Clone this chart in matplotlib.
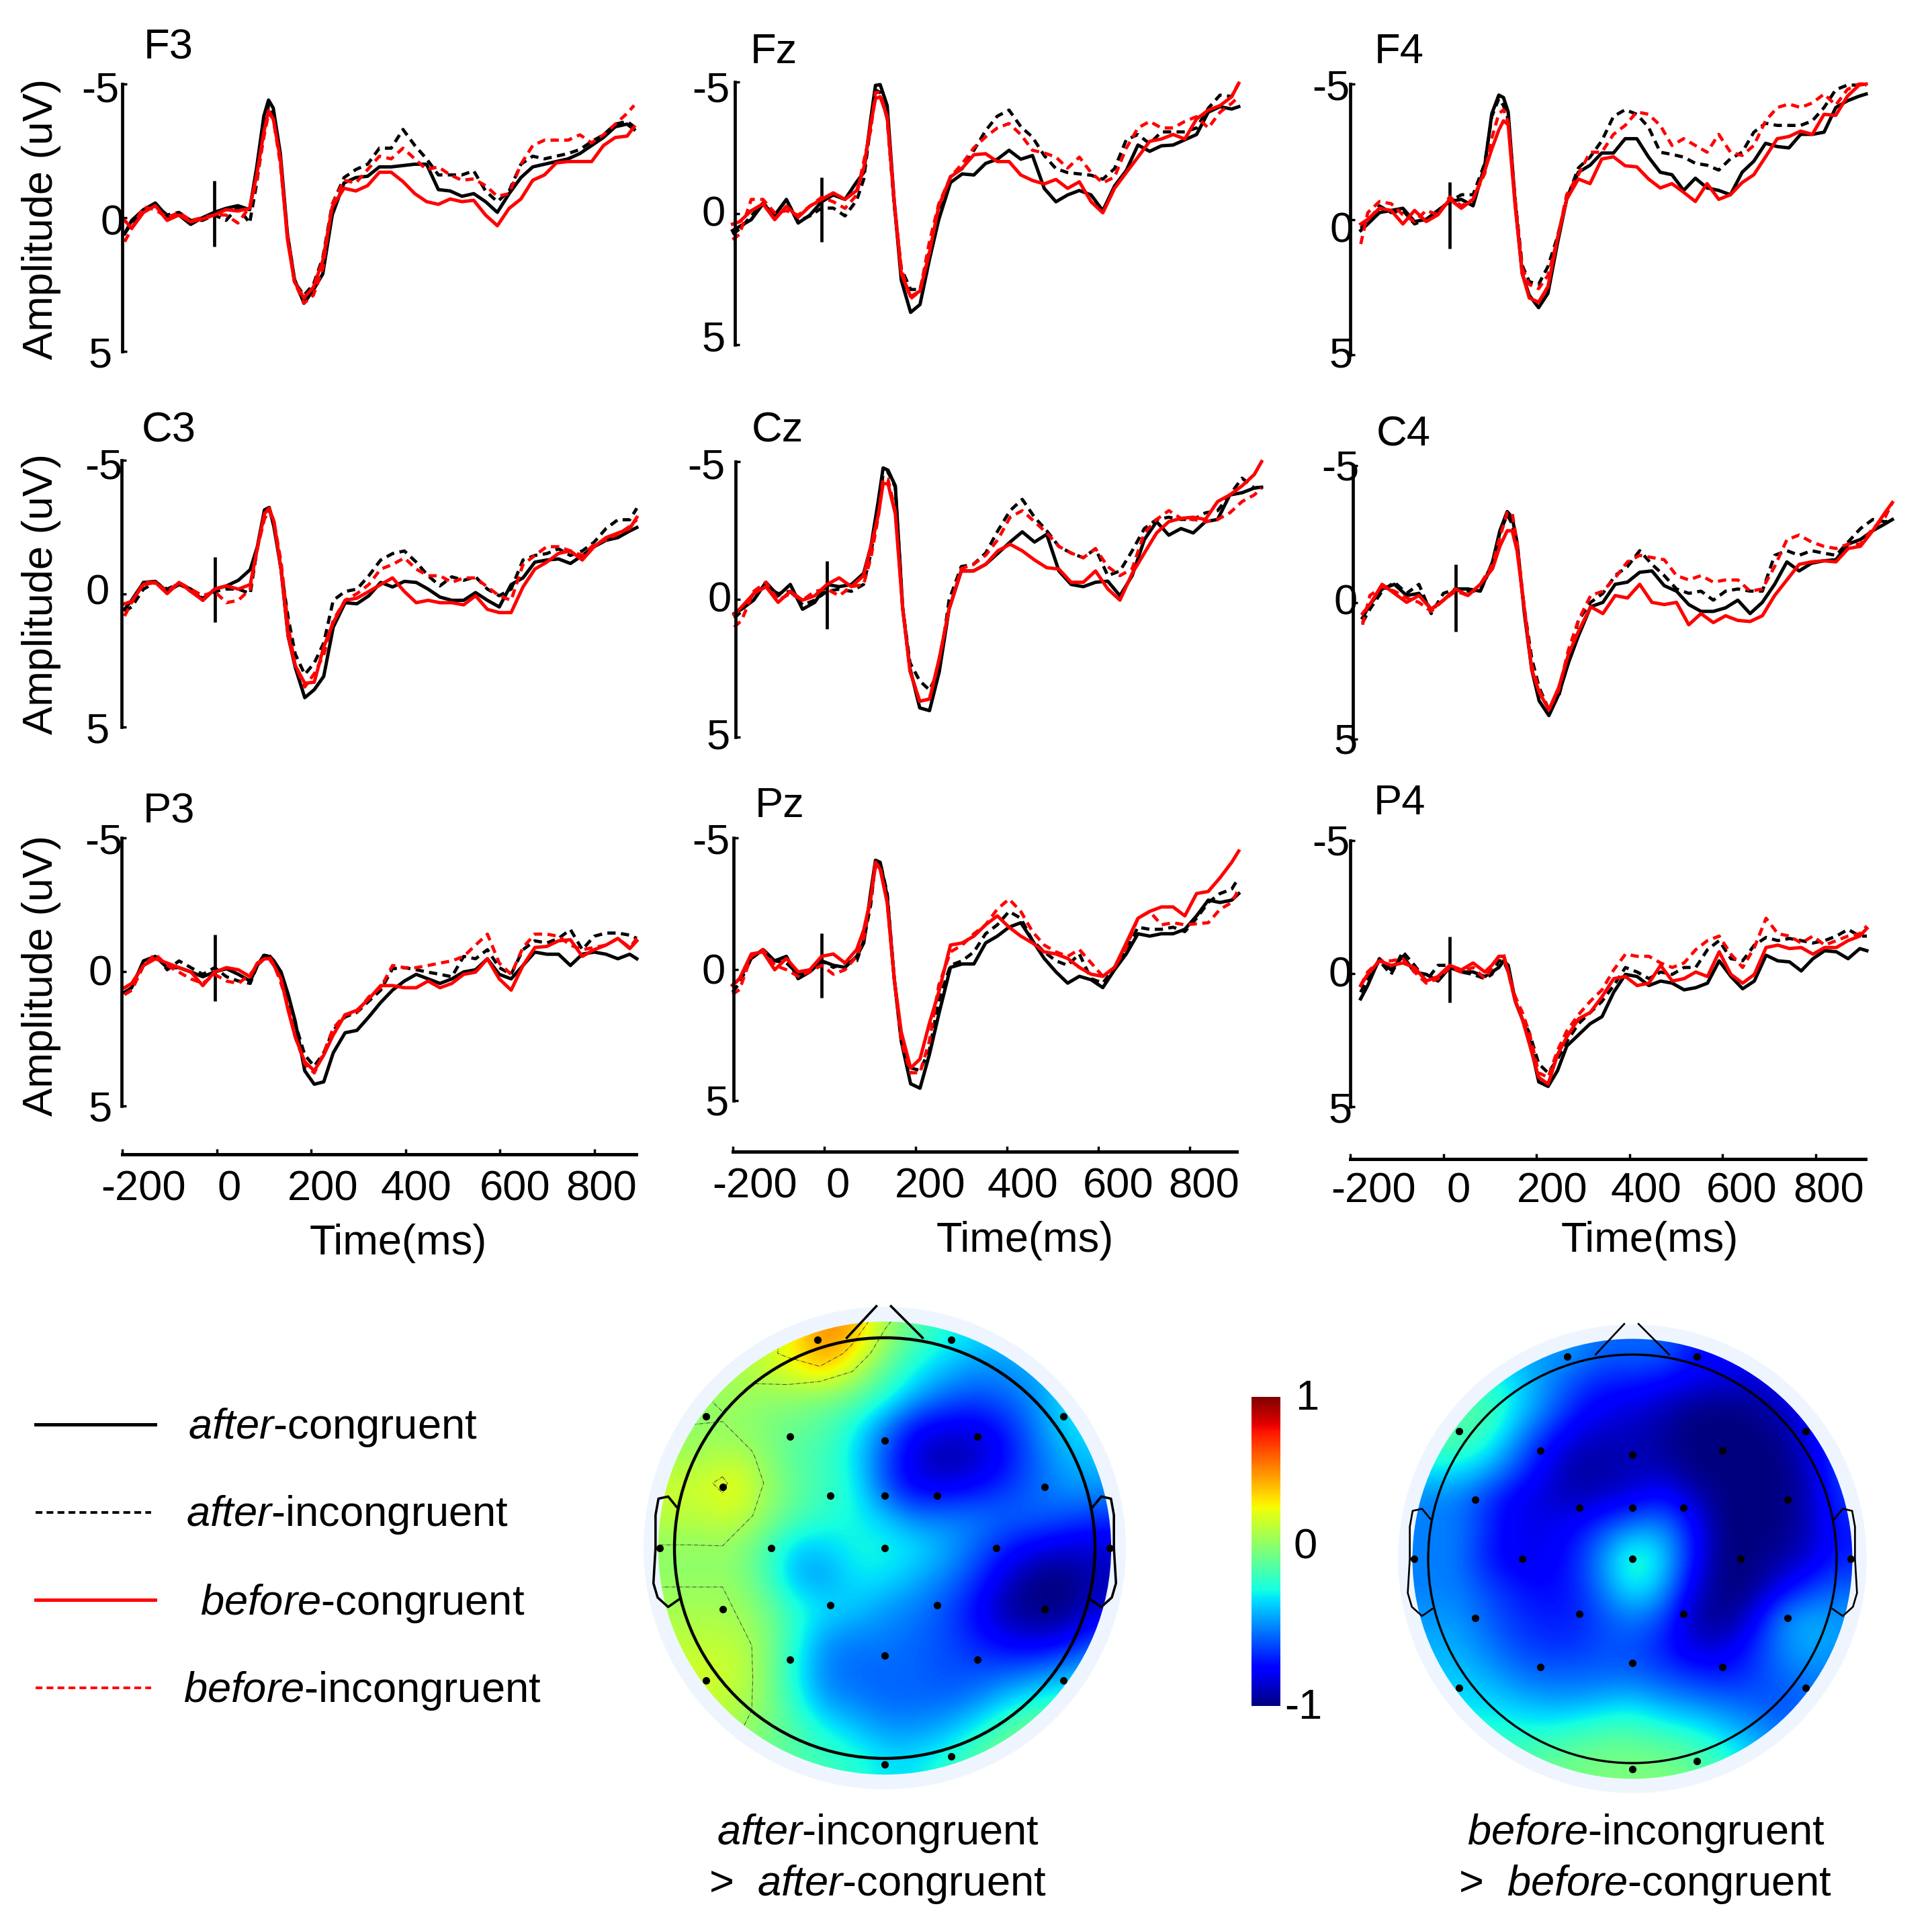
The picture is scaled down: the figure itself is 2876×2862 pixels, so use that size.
""" ERP waveforms and scalp maps for four conditions """

import matplotlib
import matplotlib.pyplot as plt
from matplotlib.patches import Circle
import numpy as np

matplotlib.use('Agg')

plt.rcParams['font.family'] = ['Liberation Sans', 'DejaVu Sans']
plt.rcParams['mathtext.fontset'] = 'custom'
plt.rcParams['mathtext.rm'] = 'Liberation Sans'
plt.rcParams['mathtext.it'] = 'Liberation Sans:italic'

WIDTH, HEIGHT = 2876, 2862

TIME = [-190, -175, -150, -125, -100, -75, -50, -25, 0, 25, 50, 75, 90, 105, 115, 125, 140, 155, 170, 190, 210, 230,
        250, 275, 300, 325, 350, 375, 400, 425, 450, 475, 500, 525, 550, 575, 600, 625, 650, 675, 700, 725, 750, 775,
        800, 825, 850, 875, 890]

F3_AC = [.6,.1,-.3,-.55,-.05,-.1,.25,0,-.2,-.35,-.45,-.3,-1.9,-3.8,-4.4,-4.1,-2.4,.6,2.3,3.2,2.7,2.1,-.1,-1.3,-1.5,-1.55,-1.9,-1.9,-1.95,-2.0,-2.0,-1.05,-1.0,-.8,-.9,-.6,-.2,-.9,-1.5,-1.9,-2.0,-2.1,-2.2,-2.4,-2.7,-3.0,-3.4,-3.5,-3.3]
F3_AI = [.6,.2,-.3,-.5,-.1,-.2,.1,.1,-.1,.1,-.4,.2,-1.3,-3.2,-4.2,-3.9,-2.2,.7,2.4,2.9,2.5,1.5,-.5,-1.5,-1.8,-2.0,-2.6,-2.6,-3.3,-2.7,-2.2,-1.6,-1.6,-1.6,-1.75,-1.0,-.6,-1.0,-2.0,-2.3,-2.2,-2.3,-2.4,-2.55,-2.85,-3.1,-3.5,-3.6,-3.4]
F3_BC = [.1,.4,-.2,-.45,.1,-.1,.15,.05,-.1,-.3,-.25,-.35,-1.6,-3.2,-4.0,-3.7,-2.2,.8,2.4,3.0,2.6,1.6,-.4,-1.1,-1.0,-1.2,-1.7,-1.7,-1.35,-.9,-.6,-.5,-.7,-.6,-.65,-.1,.3,-.35,-.7,-1.4,-1.6,-2.05,-2.1,-2.1,-2.1,-2.7,-3.0,-3.05,-3.4]
F3_BI = [.9,.4,-.4,-.3,0,-.2,.1,0,-.1,-.1,.2,-.4,-1.4,-3.0,-3.9,-3.7,-2.0,.6,2.4,3.2,2.9,1.9,-.5,-1.4,-1.3,-1.8,-2.3,-2.2,-2.6,-2.2,-1.8,-1.9,-1.6,-1.4,-1.45,-1.2,-.8,-.9,-2.0,-2.7,-2.9,-2.9,-2.9,-3.1,-2.8,-3.1,-3.5,-3.9,-4.2]

FZ_AC = [.66,.5,.24,-.36,.07,-.53,.37,.07,-.44,-.7,-.53,-1.2,-1.55,-3.6,-4.87,-4.9,-4.1,-.44,2.54,3.77,3.47,1.77,.24,-1.17,-1.5,-1.46,-1.9,-2.06,-2.4,-2.06,-2.2,-.95,-.44,-.7,-.87,-.7,-.1,-1.04,-1.63,-2.6,-2.36,-2.57,-2.6,-2.8,-3,-3.85,-4.06,-3.97,-4.06]
FZ_AI = [.8,.6,.1,-.4,.05,-.5,.3,.1,-.2,-.2,.1,-.5,-1.3,-3.4,-4.7,-4.6,-3.6,-.3,2.1,2.9,2.9,1.4,-.1,-1.4,-1.7,-2.4,-3.15,-3.7,-3.93,-3.3,-2.9,-2.2,-1.7,-1.55,-1.5,-1.45,-1.3,-1.7,-2.8,-3.0,-2.65,-3.1,-3.1,-3.1,-3.25,-4.0,-4.5,-4.45,-4.95]
FZ_BC = [.41,.32,-.1,-.36,.24,-.27,.15,-.27,-.53,-.78,-.53,-.87,-1.72,-3.42,-4.36,-4.44,-3.68,-.44,2.28,3.17,2.96,1.51,-.27,-1.38,-1.72,-2.23,-2.27,-1.97,-1.97,-1.46,-1.25,-1.12,-1.29,-.95,-1.2,-.44,-.02,-.95,-1.55,-2.14,-2.74,-2.83,-3.0,-2.83,-3.59,-3.93,-4.1,-4.44,-4.95]
FZ_BI = [1.0,.8,-.53,-.53,-.02,-.1,.07,-.27,-.61,-.44,-.19,-.7,-1.98,-3.17,-4.6,-4.6,-3.59,-.44,2.11,3.25,2.96,1.09,-.36,-1.38,-1.89,-2.5,-2.91,-3.25,-3.42,-3.0,-2.4,-2.3,-2.14,-1.72,-2.14,-1.55,-1.16,-1.38,-2.48,-3.25,-3.5,-3.25,-3.25,-3.5,-3.68,-3.25,-3.85,-4.19,-4.44]

F4_AC = [.41,.17,-.25,-.33,-.41,.08,0,-.33,-.66,-.74,-.5,-2.0,-3.9,-4.59,-4.5,-3.97,-.6,2.0,2.8,3.26,2.73,.91,-.74,-1.74,-2,-2.45,-2.45,-2.98,-2.98,-2.3,-1.74,-1.65,-1.07,-1.52,-1.16,-1.07,-.91,-1.74,-2.15,-2.81,-2.69,-2.64,-3.14,-3.14,-3.22,-4.13,-4.38,-4.55,-4.63]
F4_AI = [.33,.08,-.5,-.25,-.33,.17,0,-.33,-.66,-.91,-.91,-2.07,-3.8,-4.46,-4.2,-3.7,-.7,1.7,2.3,2.4,1.74,.66,-.74,-1.9,-2.3,-2.9,-3.8,-4.05,-3.88,-3.4,-2.48,-2.4,-2.3,-2.07,-2,-1.82,-2.24,-2.48,-3.22,-3.55,-3.47,-3.47,-3.47,-3.64,-4.13,-4.79,-4.96,-4.96,-4.96]
F4_BC = [.17,0,-.41,-.33,.17,-.33,.08,-.17,-.74,-.41,-.74,-1.8,-2.6,-3.3,-3.64,-3.5,-.5,2.0,2.9,3.06,2.48,.74,-.74,-1.49,-1.32,-2.23,-2.31,-1.98,-1.94,-1.49,-1.16,-1.32,-1,-.66,-1.32,-.74,-.91,-1.36,-1.65,-2.31,-2.98,-3.06,-3.26,-3.14,-3.88,-3.84,-4.55,-4.96,-5]
F4_BI = [.91,-.25,-.66,-.58,-.17,.08,-.33,-.17,-.83,-.5,-.74,-1.7,-3.0,-3.9,-4.05,-3.6,-.7,1.8,2.4,2.56,2.07,.74,-.91,-1.65,-2.48,-2.48,-3.14,-3.47,-3.97,-3.88,-3.47,-2.73,-2.98,-2.73,-2.48,-3.14,-2.48,-2.36,-2.73,-3.64,-4.13,-4.26,-4.13,-4.3,-4.63,-4.22,-4.8,-5,-5]

C3_AC = [.59,.25,-.42,-.46,-.08,-.34,-.17,.25,-.17,-.29,-.5,-.9,-1.76,-3.14,-3.23,-2.5,-.92,1.6,2.77,3.9,3.6,3.1,1.26,.34,.38,.08,-.42,-.25,-.46,-.42,-.17,.13,.25,.25,-.04,.25,.5,-.34,-.59,-1.18,-1.26,-1.3,-1.13,-1.43,-1.76,-2.0,-2.1,-2.35,-2.48]
C3_AI = [.67,.5,-.17,-.42,-.17,-.38,-.08,.17,-.08,-.17,-.17,0,-1.7,-2.9,-3.2,-2.7,-.9,.9,2.27,3.03,2.6,1.85,.25,-.08,-.17,-.67,-1.26,-1.5,-1.6,-1.18,-.67,-.29,-.63,-.5,-.63,-.17,.08,-.17,-1.26,-1.43,-1.5,-1.68,-1.43,-1.6,-1.93,-2.44,-2.77,-2.77,-3.2]
C3_BC = [.38,.29,-.34,-.42,0,-.42,-.08,.25,-.17,-.29,-.17,-.34,-1.7,-3.0,-3.2,-2.7,-.9,1.6,2.7,3.36,3.32,2.0,1.09,.25,.17,-.08,-.34,-.59,-.08,.34,.25,.34,.34,.42,.08,.59,.71,.71,-.25,-.92,-1.18,-1.51,-1.6,-1.26,-1.76,-2.1,-2.27,-2.44,-2.86]
C3_BI = [.84,.34,-.42,-.42,-.08,-.42,-.17,.08,-.08,.34,.25,-.17,-1.7,-2.8,-3.1,-2.7,-1.2,1.2,2.7,3.5,3.0,2.3,1.0,.25,0,-.34,-.92,-1.09,-1.34,-.92,-.67,-.67,-.42,-.59,-.59,-.25,.08,.25,-1.09,-1.43,-1.76,-1.76,-1.6,-1.43,-1.85,-2.02,-2.23,-2.52,-2.77]

CZ_AC = [.52,.36,.03,-.62,-.13,-.54,.36,.11,-.54,-.46,-.54,-.94,-1.92,-3.56,-4.77,-4.69,-4.12,.3,2.5,3.94,4.04,2.63,.36,-1.03,-1.03,-1.27,-1.67,-2.08,-2.45,-2.08,-2.36,-1.03,-.54,-.46,-.62,-.66,-.13,-.86,-2.17,-2.82,-2.33,-2.57,-2.41,-2.82,-2.9,-3.79,-3.87,-4.04,-4.07]
CZ_AI = [.68,.44,-.21,-.46,-.21,-.29,.2,.03,-.29,-.37,-.29,-.54,-1.67,-3.23,-4.54,-4.62,-4.07,.3,2.3,2.96,3.29,2.56,.03,-1.19,-1.27,-1.68,-2.49,-3.22,-3.63,-2.98,-2.49,-1.92,-1.68,-1.51,-1.84,-.86,-1.03,-1.76,-2.57,-2.9,-2.98,-2.9,-2.9,-3.14,-3.22,-3.79,-4.4,-4.04,-4.08]
CZ_BC = [.56,.28,-.21,-.46,.11,-.29,.03,-.13,-.54,-.78,-.46,-.86,-1.92,-3.05,-4.2,-4.2,-3.1,.3,2.6,3.7,3.62,2.15,.36,-1.03,-1.03,-1.27,-1.76,-2.0,-1.76,-1.43,-1.15,-1.1,-.62,-.62,-1.03,-.38,.03,-.94,-1.68,-2.41,-2.82,-2.94,-2.98,-2.9,-3.55,-3.79,-4.12,-4.53,-5]
CZ_BI = [1.01,.77,-.29,-.62,.03,-.21,.03,-.29,-.37,-.13,-.46,-.54,-1.51,-2.98,-4.36,-4.36,-3.2,.3,2.6,3.7,3.62,2.15,.36,-1.11,-1.27,-1.6,-2.17,-2.98,-3.22,-2.82,-2.41,-1.92,-1.68,-1.51,-1.84,-1.19,-.86,-1.11,-2.41,-2.9,-3.22,-2.94,-2.9,-2.82,-2.9,-3.14,-3.55,-3.79,-4.04]

C4_AC = [.57,.08,-.49,-.66,-.25,-.33,.25,-.08,-.49,-.49,-.41,-1.48,-2.62,-3.32,-3.11,-2.2,.41,2.46,3.6,4.14,3.36,2.2,1.23,.16,0,-.66,-.74,-1.1,-1.15,-.61,-.41,.08,.33,.33,.2,-.08,.41,0,-.66,-1.48,-1.15,-1.43,-1.52,-1.56,-2.13,-2.3,-2.62,-2.87,-3.03]
C4_AI = [.74,.25,-.41,-.74,-.33,-.66,.41,-.33,-.49,-.41,-.41,-1.39,-2.54,-3.2,-2.87,-2.05,.25,2.05,3.11,3.93,3.44,2.05,.66,0,-.33,-.98,-1.31,-1.89,-1.39,-.98,-.49,-.33,-.41,-.08,-.41,-.49,-.41,-.41,-1.72,-1.89,-1.72,-1.89,-1.8,-1.72,-2.21,-2.7,-3.03,-2.95,-2.99]
C4_BC = [.41,.08,-.66,-.33,0,-.25,.25,-.08,-.49,-.25,-.66,-1.23,-2.05,-2.62,-2.62,-1.89,.25,2.46,3.28,3.93,3.11,1.89,1.07,.16,.41,-.25,-.16,-.66,0,.08,0,.82,.41,.74,.49,.66,.7,.49,-.25,-.82,-1.39,-1.48,-1.52,-1.48,-1.97,-2.05,-2.62,-3.28,-3.65]
C4_BI = [.82,-.25,-.57,-.41,-.16,0,.33,-.08,-.41,-.25,-.66,-1.39,-2.38,-3.28,-3.28,-2.2,.25,2.29,3.2,3.93,3.2,1.72,.66,-.25,-.41,-.9,-1.48,-1.72,-1.64,-1.56,-.98,-.82,-.98,-.74,-.82,-.82,-.41,-.49,-1.31,-2.29,-2.46,-2.21,-2.05,-1.97,-2.13,-2.13,-2.7,-3.11,-3.65]

P3_AC = [.76,.59,-.41,-.58,-.16,-.16,0,.18,0,-.12,.09,.34,-.24,-.62,-.58,-.41,0,.84,1.85,3.69,4.19,4.1,3.02,2.27,2.18,1.68,1.14,.68,.34,.09,.26,.43,.26,0,-.08,-.49,.09,.26,-.24,-.74,-.66,-.66,-.24,-.66,-.74,-.66,-.49,-.66,-.49]
P3_AI = [.84,.68,-.24,-.66,-.08,-.41,-.16,.09,-.16,.18,.34,.43,-.24,-.66,-.62,-.41,.26,1.09,1.93,3.1,3.52,3.02,2.18,1.68,1.51,1.09,.68,-.12,-.16,-.08,.01,.09,.18,-.58,-.49,-.83,-.16,.09,-.83,-1.16,-1.08,-1.25,-1.58,-.83,-1.33,-1.45,-1.45,-1.37,-1.25]
P3_BC = [.59,.43,-.24,-.49,-.33,-.16,0,.51,0,-.16,-.08,.18,-.33,-.49,-.49,-.24,.26,1.43,2.43,3.35,3.69,3.1,2.35,1.6,1.43,1.01,.51,.51,.59,.59,.34,.59,.43,.09,.01,-.49,.26,.68,-.24,-.91,-.95,-1.16,-1.2,-.58,-.83,-1,-1.25,-.87,-1.16]
P3_BI = [.84,.68,-.24,-.66,-.24,.01,.26,.43,.09,.34,.43,.09,-.24,-.49,-.58,-.28,.43,1.26,2.43,3.43,3.77,3.02,2.1,1.6,1.51,.93,.59,-.24,-.16,-.16,-.24,-.33,-.41,-.58,-1,-1.41,-.33,.09,-.91,-1.41,-1.41,-1.33,-1,-.83,-.91,-1,-1.25,-.91,-1.25]

PZ_AC = [.61,.36,-.41,-.75,-.32,-.49,.36,.1,-.32,-.15,-.07,-.49,-1.0,-2.95,-4.15,-4.07,-2.78,.36,2.74,4.36,4.53,3.25,1.72,-.07,-.2,-.2,-1.0,-1.26,-1.6,-1.77,-1.09,-.41,.1,.53,.27,.4,.7,.02,-.58,-1.35,-1.26,-1.35,-1.35,-1.52,-2.03,-2.63,-2.54,-2.63,-2.88]
PZ_AI = [.87,.53,-.41,-.75,-.32,-.24,.19,.1,-.32,-.07,-.24,-.32,-1.09,-2.47,-4.07,-4.07,-2.9,.36,2.57,3.76,3.85,3.08,1.2,-.15,-.32,-.66,-1.35,-1.69,-2.2,-1.94,-1.09,-.66,-.32,-.15,-.58,.36,.53,-.07,-.75,-1.6,-1.52,-1.52,-1.6,-1.43,-1.94,-2.54,-2.88,-3.05,-3.48]
PZ_BC = [.61,.36,-.58,-.66,.02,-.41,.1,.02,-.49,-.58,-.24,-.75,-1.5,-2.71,-4.07,-3.81,-2.54,.36,2.39,3.76,3.42,2.06,.87,-.92,-1.0,-1.26,-1.69,-2.03,-1.6,-1.26,-1.0,-.66,-.58,-.41,-.07,.19,.27,-.07,-1.0,-1.94,-2.2,-2.37,-2.37,-2.03,-2.88,-2.96,-3.48,-4.07,-4.5]
PZ_BI = [.95,.78,-.49,-.75,-.15,.02,.27,.1,-.15,.19,.02,-.49,-1.18,-2.71,-3.9,-3.9,-2.54,.36,2.74,3.94,3.94,2.74,.61,-.66,-.92,-1.35,-1.69,-2.29,-2.67,-2.2,-1.43,-.92,-.66,-.49,-.75,-.24,.27,-.07,-.83,-1.94,-2.2,-1.69,-1.77,-1.69,-1.73,-1.77,-2.28,-2.54,-3.05]

P4_AC = [.95,.45,-.56,-.14,-.65,-.06,.03,.28,-.23,-.06,-.06,.11,-.06,-.23,-.48,-.31,1.04,1.71,2.47,4.07,4.24,3.65,2.72,2.3,1.88,1.62,.7,.03,.11,.45,.28,.36,.61,.53,.36,-.48,.11,.57,.28,-.69,-.48,-.44,-.1,-.56,-.86,-.82,-.56,-.94,-.86]
P4_AI = [.7,.19,-.48,.03,-.82,-.31,.28,-.31,-.31,-.06,.03,.19,.03,-.48,-.48,-.06,1.04,1.71,2.22,3.39,3.73,3.22,2.55,1.88,1.46,1.04,.45,-.23,-.06,.19,-.06,.03,-.23,-.23,-.9,-1.24,-.56,-.48,-1.07,-1.36,-1.24,-1.32,-1.24,-1.15,-1.24,-1.41,-1.66,-1.41,-1.41]
P4_BC = [.45,.03,-.48,-.31,-.4,-.23,.28,.11,-.31,-.14,-.4,-.06,-.31,-.65,-.65,-.06,1.04,1.71,2.64,3.9,4.15,3.05,2.38,1.7,1.46,.87,.19,.11,.45,.36,-.31,.28,.19,-.06,.11,-.82,.03,.36,.03,-.98,-1.07,-.94,-.98,-.73,-.98,-.98,-1.24,-1.41,-1.7]
P4_BI = [.45,-.06,-.48,-.48,-.56,-.06,.36,.19,-.23,-.06,-.23,.19,-.23,-.65,-.73,-.06,.87,1.46,2.22,3.73,3.9,2.89,2.15,1.54,1.04,.61,-.14,-.73,-.65,-.65,-.4,-.23,-.4,-.9,-1.24,-1.41,-.73,-.23,-.98,-2.08,-1.5,-1.41,-1.15,-1.41,-1.07,-1.24,-1.41,-1.5,-1.79]

# rows run from the front of the head to the back, columns from left to right
MAP_AFTER = [
    [.1, .1, .1, .15, .3, .55, .45, .1, -.1, -.25, -.3, -.35, -.35, -.4, -.4],
    [.1, .1, .1, .2, .3, .45, .2, -.05, -.25, -.35, -.45, -.45, -.4, -.4, -.4],
    [.05, .05, .1, .05, .05, 0, -.05, -.2, -.4, -.55, -.6, -.55, -.45, -.3, -.3],
    [.05, .05, .05, 0, -.05, -.1, -.25, -.5, -.75, -.8, -.8, -.7, -.5, -.3, -.3],
    [.1, .1, .15, .05, -.1, -.15, -.3, -.6, -.85, -.95, -.9, -.75, -.55, -.4, -.35],
    [.2, .2, .3, .1, -.05, -.15, -.25, -.6, -.8, -.8, -.75, -.65, -.55, -.45, -.45],
    [.15, .15, .2, .05, -.1, -.2, -.25, -.35, -.5, -.5, -.5, -.55, -.55, -.6, -.65],
    [.05, .05, .05, -.1, -.35, -.35, -.25, -.25, -.3, -.4, -.55, -.7, -.8, -.85, -.85],
    [.05, .05, .05, -.1, -.4, -.45, -.3, -.3, -.4, -.5, -.65, -.85, -1, -1, -.9],
    [.1, .1, .1, 0, -.2, -.3, -.35, -.45, -.5, -.6, -.75, -.95, -1, -1, -.85],
    [.15, .15, .15, .05, -.2, -.45, -.5, -.5, -.55, -.6, -.7, -.8, -.85, -.8, -.6],
    [.2, .2, .2, .05, -.25, -.5, -.55, -.55, -.55, -.6, -.6, -.6, -.55, -.45, -.4],
    [.2, .2, .15, .05, -.2, -.45, -.5, -.55, -.55, -.55, -.5, -.35, -.25, -.2, -.2],
    [.15, .15, .1, 0, -.1, -.25, -.35, -.45, -.45, -.4, -.25, -.1, 0, 0, 0],
    [.1, .1, .05, -.05, -.1, -.15, -.2, -.3, -.3, -.2, -.1, 0, .05, .05, .05],
]
MAP_BEFORE = [
    [-.4, -.4, -.4, -.4, -.45, -.45, -.55, -.55, -.55, -.7, -.75, -.75, -.7, -.7, -.7],
    [-.2, -.2, -.2, -.3, -.45, -.6, -.7, -.7, -.75, -.8, -.85, -.85, -.8, -.75, -.7],
    [-.1, -.1, -.1, -.3, -.5, -.7, -.8, -.85, -.9, -1, -1, -1, -.9, -.75, -.7],
    [-.1, -.1, -.2, -.45, -.7, -.85, -.9, -.9, -.95, -1, -1, -1, -1, -.8, -.6],
    [-.3, -.3, -.4, -.6, -.8, -.95, -.95, -.9, -.9, -1, -1, -1, -1, -.9, -.6],
    [-.5, -.5, -.65, -.8, -.85, -.9, -.85, -.8, -.7, -.85, -1, -1, -1, -.9, -.65],
    [-.5, -.5, -.65, -.8, -.8, -.75, -.6, -.45, -.45, -.7, -1, -1, -1, -.9, -.7],
    [-.5, -.5, -.7, -.8, -.8, -.7, -.45, -.15, -.3, -.7, -1, -1, -.95, -.85, -.7],
    [-.5, -.5, -.6, -.7, -.75, -.7, -.5, -.25, -.4, -.8, -1, -1, -.8, -.65, -.55],
    [-.45, -.45, -.55, -.65, -.7, -.7, -.6, -.5, -.6, -.9, -1, -.85, -.5, -.4, -.45],
    [-.4, -.4, -.5, -.6, -.65, -.65, -.6, -.6, -.7, -.85, -.85, -.7, -.5, -.4, -.45],
    [-.35, -.35, -.4, -.5, -.55, -.55, -.55, -.55, -.6, -.65, -.7, -.65, -.55, -.5, -.5],
    [-.3, -.3, -.3, -.35, -.4, -.4, -.35, -.3, -.4, -.45, -.5, -.55, -.6, -.55, -.55],
    [-.2, -.2, -.2, -.2, -.2, -.15, -.1, -.1, -.15, -.2, -.3, -.4, -.5, -.55, -.55],
    [-.15, -.15, -.15, -.1, -.05, -.02, 0, 0, 0, -.05, -.15, -.3, -.4, -.5, -.5],
]
ELECTRODE_X = [-.32, .315, -.85, .85, -.45, 0, .44, -.77, -.26, 0, .25, .76, -1.07, -.54, 0, .53, 1.07,
               -.77, -.26, .25, .76, -.45, 0, .44, -.85, .85, 0, .315]
ELECTRODE_Y = [.99, .99, .625, .625, .53, .51, .53, .29, .25, .25, .25, .29, 0, 0, 0, 0, 0,
               -.29, -.27, -.27, -.29, -.53, -.51, -.53, -.63, -.63, -1.03, -.99]
EAR_X = [-.99, -1.03, -1.076, -1.09, -1.09, -1.10, -1.08, -1.03, -.98]
EAR_Y = [.196, .245, .235, .157, 0, -.167, -.235, -.28, -.245]

X_TICKS = [0, 200, 400, 600, 800]
X_TICK_LABELS = ["-200", "0", "200", "400", "600", "800"]
LEGEND_LABELS = [r"$\mathit{after}$-congruent", r"$\mathit{after}$-incongruent",
                 r"$\mathit{before}$-congruent", r"$\mathit{before}$-incongruent"]

# name, traces, left/zero/right/top/bottom in pixels, label position, tick label positions
PANELS = [
    ("F3", (F3_AC, F3_AI, F3_BC, F3_BI), (182, 319, 944, 125, 523), (251, 66), ((149, 130), (167, 328), (149, 525))),
    ("Fz", (FZ_AC, FZ_AI, FZ_BC, FZ_BI), (1094, 1223, 1844, 122, 513), (1152, 73), ((1058, 130), (1062, 315), (1062, 501))),
    ("F4", (F4_AC, F4_AI, F4_BC, F4_BI), (2010, 2158, 2778, 125, 528), (2083, 73), ((1981, 127), (1997, 339), (1996, 525))),
    ("C3", (C3_AC, C3_AI, C3_BC, C3_BI), (181, 319.5, 948, 685, 1082), (251, 636), ((154, 691), (145, 878), (145, 1084))),
    ("Cz", (CZ_AC, CZ_AI, CZ_BC, CZ_BI), (1095, 1231, 1878, 687, 1097), (1157, 636), ((1051, 691), (1071, 889), (1069, 1093))),
    ("C4", (C4_AC, C4_AI, C4_BC, C4_BI), (2014, 2167, 2817, 693, 1100), (2089, 642), ((1995, 693), (2003, 893), (2003, 1100))),
    ("P3", (P3_AC, P3_AI, P3_BC, P3_BI), (181, 319.5, 948, 1247, 1646), (251, 1203), ((154, 1249), (149, 1445), (149, 1647))),
    ("Pz", (PZ_AC, PZ_AI, PZ_BC, PZ_BI), (1092, 1223, 1844, 1247, 1638), (1161, 1194), ((1058, 1249), (1062, 1443), (1067, 1638))),
    ("P4", (P4_AC, P4_AI, P4_BC, P4_BI), (2010, 2158, 2779, 1251, 1647), (2083, 1190), ((1981, 1251), (1995, 1447), (1995, 1649))),
]
# left, right, y of the line, scale in px/ms, tick label centres, y of tick labels, centre of the title
TIME_AXES = [
    (182, 947, 1719, .7025, (214, 341, 481, 619, 767, 895), 1765, (593, 1846)),
    (1091, 1841, 1715, .68, (1124, 1247, 1385, 1522, 1665, 1792), 1761, (1526, 1842)),
    (2010, 2777, 1726, .693, (2045, 2171, 2311, 2450, 2593, 2722), 1768, (2456, 1842)),
]
TRACE_STYLES = [
    {"color": "black", "lw": 3.6},
    {"color": "black", "lw": 3.4, "linestyle": (0, (2.6, 1.7))},
    {"color": "#ff0000", "lw": 3.6},
    {"color": "#ff0000", "lw": 3.4, "linestyle": (0, (2.6, 1.7))},
]
FONT = 45.5
TEXT_SHIFT = 5


def put_text(canvas, x, y, text, **kwargs):
    """ Place centred text at pixel coordinates """
    options = {"ha": "center", "va": "center", "fontsize": FONT}
    options.update(kwargs)
    canvas.text(x, y + TEXT_SHIFT, text, **options)


def add_axes_px(fig, left, top, right, bottom):
    """ Add axes placed with pixel coordinates measured from the top left """
    return fig.add_axes([left / WIDTH, 1 - bottom / HEIGHT, (right - left) / WIDTH, (bottom - top) / HEIGHT])


def draw_panel(fig, canvas, panel):
    """ Draw one electrode with its four traces """
    name, traces, (left, zero, right, top, bottom), name_pos, tick_pos = panel
    ax = add_axes_px(fig, left, top, right, bottom)
    scale = (right - zero) / TIME[-1]
    ax.set_xlim(-(zero - left) / scale, TIME[-1])
    ax.set_ylim(5, -5)
    ax.patch.set_visible(False)
    for spine in ("top", "right", "bottom"):
        ax.spines[spine].set_visible(False)
    ax.spines["left"].set_linewidth(3.4)
    ax.set_xticks([])
    ax.set_yticks([-5, 0, 5])
    ax.set_yticklabels([])
    ax.tick_params(axis="y", direction="in", length=5, width=2.5)
    for values, style in zip(traces, TRACE_STYLES):
        ax.plot(TIME, values, clip_on=False, solid_joinstyle="round", **style)
    ax.plot([0, 0], [-1.38, 1.08], color="black", lw=3.4, solid_capstyle="butt", zorder=1)
    put_text(canvas, *name_pos, name)
    for pos, label in zip(tick_pos, ("-5", "0", "5")):
        put_text(canvas, *pos, label)


def draw_time_axis(fig, canvas, spec):
    """ Draw the time axis below a column """
    left, right, y_line, scale, label_x, label_y, title_pos = spec
    ax = add_axes_px(fig, left, y_line - 1, right, y_line)
    ax.set_xlim(-200, -200 + (right - left) / scale)
    ax.set_ylim(0, 1)
    ax.patch.set_visible(False)
    for spine in ("left", "right", "bottom"):
        ax.spines[spine].set_visible(False)
    ax.spines["top"].set_linewidth(3.6)
    ax.xaxis.tick_top()
    ax.set_xticks([-200] + X_TICKS)
    ax.set_xticklabels([])
    ax.set_yticks([])
    ax.tick_params(axis="x", direction="out", length=6, width=2.5)
    for pos, label in zip(label_x, X_TICK_LABELS):
        put_text(canvas, pos, label_y, label)
    put_text(canvas, *title_pos, "Time(ms)")


def draw_map(fig, center, radius, values, line_width, contours):
    """ Draw one scalp map, head radius is 1 in data units """
    cx, cy = center
    ax = add_axes_px(fig, cx - 1.2 * radius, cy - 1.2 * radius, cx + 1.2 * radius, cy + 1.2 * radius)
    ax.set_xlim(-1.2, 1.2)
    ax.set_ylim(-1.2, 1.2)
    ax.axis("off")
    ax.add_patch(Circle((0, 0), 1.147, color="#eef5ff", lw=0, zorder=0))
    image = ax.imshow(values, extent=(-1.08, 1.08, -1.08, 1.08), cmap="jet", vmin=-1, vmax=1,
                      interpolation="bicubic", zorder=1)
    clip = Circle((0, 0), 1.077, transform=ax.transData)
    image.set_clip_path(clip)
    if contours:
        grid = np.linspace(-1.08, 1.08, 15)
        lines = ax.contour(grid, grid[::-1], values, levels=contours, colors="#404040",
                           linewidths=.7, linestyles="-.", zorder=2)
        lines.set_clip_path(clip)
    ax.add_patch(Circle((0, 0), 1, fill=False, edgecolor="black", lw=line_width, zorder=3))
    ax.plot([-.18, -.04], [1.0, 1.15], color="black", lw=line_width * .8, zorder=3)
    ax.plot([.18, .03], [1.0, 1.15], color="black", lw=line_width * .8, zorder=3)
    ax.plot(EAR_X, EAR_Y, color="black", lw=line_width * .8, zorder=3)
    ax.plot([-x for x in EAR_X], EAR_Y, color="black", lw=line_width * .8, zorder=3)
    ax.plot(ELECTRODE_X, ELECTRODE_Y, "o", color="black", markersize=7, zorder=4)
    return image


def main():
    """ Build the figure """
    fig = plt.figure(figsize=(WIDTH / 100, HEIGHT / 100), dpi=100)
    canvas = fig.add_axes([0, 0, 1, 1])
    canvas.set_xlim(0, WIDTH)
    canvas.set_ylim(HEIGHT, 0)
    canvas.axis("off")

    for panel in PANELS:
        draw_panel(fig, canvas, panel)
    for spec in TIME_AXES:
        draw_time_axis(fig, canvas, spec)
    for y in (326, 884, 1452):
        put_text(canvas, 62, y - TEXT_SHIFT, "Amplitude (uV)", rotation=90)

    # legend
    canvas.plot([53, 231], [2120, 2120], color="black", lw=3.6)
    canvas.plot([53, 225], [2251, 2251], color="black", lw=2.8, linestyle=(0, (2.6, 1.6)))
    canvas.plot([53, 231], [2381, 2381], color="#ff0000", lw=3.6)
    canvas.plot([53, 225], [2512, 2512], color="#ff0000", lw=2.8, linestyle=(0, (2.6, 1.6)))
    for x, y, label in zip((280, 277, 298, 273), (2119, 2250, 2381, 2512), LEGEND_LABELS):
        put_text(canvas, x, y, label, ha="left")

    image = draw_map(fig, (1317, 2304), 313, MAP_AFTER, 3.2, [.06, .27])
    draw_map(fig, (2430, 2320), 304, MAP_BEFORE, 2.4, None)

    cax = add_axes_px(fig, 1863, 2079, 1906, 2539)
    colorbar = fig.colorbar(image, cax=cax)
    colorbar.outline.set_visible(False)
    colorbar.set_ticks([])
    put_text(canvas, 1946, 2076, "1")
    put_text(canvas, 1943, 2298, "0")
    put_text(canvas, 1940, 2537, "-1")

    put_text(canvas, 1307, 2724, r"$\mathit{after}$-incongruent")
    put_text(canvas, 1306, 2800, r">  $\mathit{after}$-congruent")
    put_text(canvas, 2450, 2724, r"$\mathit{before}$-incongruent")
    put_text(canvas, 2449, 2800, r">  $\mathit{before}$-congruent")

    fig.savefig("out.png", dpi=100)
    plt.close(fig)


if __name__ == "__main__":
    main()
